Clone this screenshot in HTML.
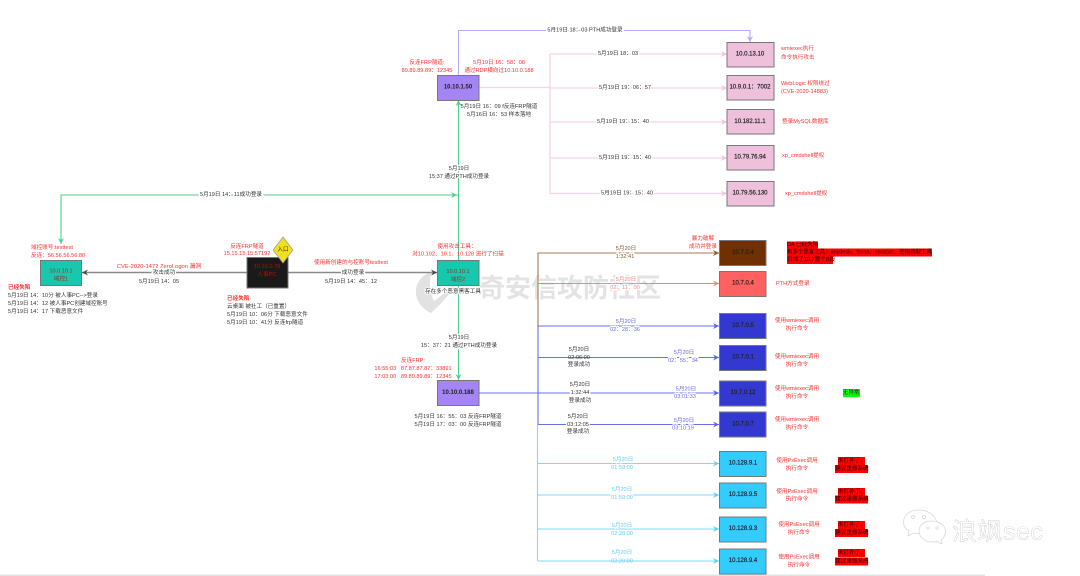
<!DOCTYPE html>
<html><head><meta charset="utf-8"><style>
html,body{margin:0;padding:0;background:#fff;width:1080px;height:576px;overflow:hidden}
svg{display:block;filter:blur(.3px)}
text{font-family:"Liberation Sans","Noto Sans CJK SC",sans-serif;font-size:5.6px;fill:#333;dominant-baseline:central}
.c{text-anchor:middle}
.r{fill:#ff3030}
.e{paint-order:stroke;stroke:#fff;stroke-width:2.5px}
.n{text-anchor:middle;font-size:6px;fill:#222;stroke:#222;stroke-width:.18px}
.h{font-weight:bold;stroke:none}
.b{fill:#6a6ae8}.cy{fill:#66ccf5}.pr{fill:#ff8080}.br{fill:#7a5a40}
.node{stroke:#777;stroke-width:1}
path.l{fill:none}
</style></head><body>
<svg width="1080" height="576" viewBox="0 0 1080 576" xmlns="http://www.w3.org/2000/svg">
<defs>
<marker id="mg" markerUnits="userSpaceOnUse" markerWidth="8" markerHeight="8" refX="6" refY="4" orient="auto"><path d="M0,1 L6,4 L0,7 L2,4Z" fill="#4fcf8f"/></marker>
<marker id="mp" markerUnits="userSpaceOnUse" markerWidth="8" markerHeight="8" refX="6" refY="4" orient="auto"><path d="M0,1 L6,4 L0,7 L2,4Z" fill="#b9a8ff"/></marker>
<marker id="mk" markerUnits="userSpaceOnUse" markerWidth="8" markerHeight="8" refX="6" refY="4" orient="auto"><path d="M0,1 L6,4 L0,7 L2,4Z" fill="#f2c4de"/></marker>
<marker id="ma" markerUnits="userSpaceOnUse" markerWidth="8" markerHeight="8" refX="6" refY="4" orient="auto"><path d="M0,1 L6,4 L0,7 L2,4Z" fill="#444"/></marker>
<marker id="mb" markerUnits="userSpaceOnUse" markerWidth="8" markerHeight="8" refX="6" refY="4" orient="auto"><path d="M0,1 L6,4 L0,7 L2,4Z" fill="#8a5a30"/></marker>
<marker id="mr" markerUnits="userSpaceOnUse" markerWidth="8" markerHeight="8" refX="6" refY="4" orient="auto"><path d="M0,1 L6,4 L0,7 L2,4Z" fill="#ff8080"/></marker>
<marker id="mu" markerUnits="userSpaceOnUse" markerWidth="8" markerHeight="8" refX="6" refY="4" orient="auto"><path d="M0,1 L6,4 L0,7 L2,4Z" fill="#5a60e8"/></marker>
<marker id="mc" markerUnits="userSpaceOnUse" markerWidth="8" markerHeight="8" refX="6" refY="4" orient="auto"><path d="M0,1 L6,4 L0,7 L2,4Z" fill="#5fd0fa"/></marker>
</defs>

<!-- watermark -->
<path d="M432,271 C421,276 415,283 416,294 C417,303 424,310 431,313 C441,304 453,292 460,276 C452,287 443,295 434,301 C429,291 429,281 432,271Z" fill="#e2e2e2"/>
<text x="570" y="288" class="c" style="font-size:26px;font-weight:bold;fill:#e3e3e3">奇安信攻防社区</text>

<!-- connectors -->
<path class="l" d="M458.5,101 V380" stroke="#4fcf8f" stroke-width="1.1" marker-end="url(#mg)"/>
<path class="l" d="M458.5,260 V100" stroke="#4fcf8f" stroke-width="1.1" marker-end="url(#mg)"/>
<path class="l" d="M458.5,195 H61 V244" stroke="#4fcf8f" stroke-width="1.1" marker-end="url(#mg)"/>
<path class="l" d="M61,195 H457" stroke="#4fcf8f" stroke-width="1.1" marker-end="url(#mg)"/>
<path class="l" d="M458.5,75 V30.5 H750 V42" stroke="#b9a8ff" stroke-width="1.1" marker-end="url(#mp)"/>

<g stroke="#f6d3e7" stroke-width="1.3" class="pk">
<path class="l" d="M479,87.5 H550"/>
<path class="l" d="M550,54 V193.5"/>
<path class="l" d="M550,54 H727" marker-end="url(#mk)"/>
<path class="l" d="M550,88 H727" marker-end="url(#mk)"/>
<path class="l" d="M550,122 H727" marker-end="url(#mk)"/>
<path class="l" d="M550,158 H727" marker-end="url(#mk)"/>
<path class="l" d="M550,193.5 H727" marker-end="url(#mk)"/>
</g>

<path class="l" d="M247,272.5 H82" stroke="#8a8a8a" stroke-width="1.4" marker-end="url(#ma)"/>
<path class="l" d="M288,272.5 H437" stroke="#8a8a8a" stroke-width="1.4" marker-end="url(#ma)"/>

<path class="l" d="M538,326 V253 H719" stroke="#a87850" stroke-width="1.1" marker-end="url(#mb)"/>
<path class="l" d="M538,283.5 H719" stroke="#ff8080" stroke-width="1" marker-end="url(#mr)"/>
<path class="l" d="M479,393 H538" stroke="#6a70e4" stroke-width="1.1"/>
<g stroke="#6a70e4" stroke-width="1.1">
<path class="l" d="M538,326 V424.5"/>
<path class="l" d="M538,326 H719" marker-end="url(#mu)"/>
<path class="l" d="M538,357.5 H719" marker-end="url(#mu)"/>
<path class="l" d="M538,393 H719" marker-end="url(#mu)"/>
<path class="l" d="M538,424.5 H719" marker-end="url(#mu)"/>
</g>
<g stroke="#7fd8fa" stroke-width="1.1">
<path class="l" d="M537.5,424.5 V561"/>
<path class="l" d="M537.5,463.5 H719" marker-end="url(#mc)"/>
<path class="l" d="M537.5,495 H719" marker-end="url(#mc)"/>
<path class="l" d="M537.5,529 H719" marker-end="url(#mc)"/>
<path class="l" d="M537.5,561 H719" marker-end="url(#mc)"/>
</g>

<!-- nodes -->
<rect class="node" x="40.5" y="260.5" width="41" height="25" fill="#17c7ae"/>
<rect class="node" x="247" y="257.5" width="41" height="30.5" fill="#1a1a1a"/>
<path d="M283,237 L293,250 L283,263 L273,250Z" fill="#f0e020" stroke="#999" stroke-width=".7"/>
<rect class="node" x="437.5" y="260.5" width="41.5" height="25" fill="#17c7ae"/>
<rect class="node" x="437.5" y="380.5" width="41.5" height="25" fill="#a585f5"/>
<rect class="node" x="437.5" y="75.5" width="41.5" height="25" fill="#a585f5"/>
<g fill="#efc0dc">
<rect class="node" x="727" y="42.5" width="47" height="24.5"/>
<rect class="node" x="727" y="75.5" width="47" height="24.5"/>
<rect class="node" x="727" y="109.5" width="47" height="24.5"/>
<rect class="node" x="727" y="145.5" width="47" height="24.5"/>
<rect class="node" x="727" y="181.5" width="47" height="24.5"/>
</g>
<rect class="node" x="719.5" y="240.5" width="46.5" height="25" fill="#703000"/>
<rect class="node" x="719.5" y="271.5" width="46.5" height="25" fill="#ff6060"/>
<g fill="#3339d0">
<rect class="node" x="719.5" y="313.5" width="46.5" height="25"/>
<rect class="node" x="719.5" y="345.5" width="46.5" height="25"/>
<rect class="node" x="719.5" y="381" width="46.5" height="25"/>
<rect class="node" x="719.5" y="412" width="46.5" height="25"/>
</g>
<g fill="#33ccff">
<rect class="node" x="719.5" y="451.5" width="46.5" height="25"/>
<rect class="node" x="719.5" y="483" width="46.5" height="25"/>
<rect class="node" x="719.5" y="517" width="46.5" height="25"/>
<rect class="node" x="719.5" y="549" width="46.5" height="25"/>
</g>

<!-- highlight backgrounds -->
<g fill="#ff0000">
<rect x="787" y="241.5" width="31" height="7.5"/>
<rect x="787" y="248.5" width="145" height="8"/>
<rect x="787" y="256" width="46" height="8"/>
<rect x="838" y="457" width="27" height="8"/><rect x="835" y="465" width="33" height="8"/>
<rect x="838" y="488" width="27" height="8"/><rect x="835" y="495.500" width="33" height="8"/>
<rect x="838" y="521" width="27" height="8"/><rect x="835" y="529" width="33" height="8"/>
<rect x="838" y="549" width="27" height="8"/><rect x="835" y="557.500" width="33" height="8"/>
</g>
<rect x="843" y="389" width="17" height="8" fill="#00ff00"/>

<!-- left -->
<text x="31" y="248" class="r">域控账号:testtest</text>
<text x="31" y="256" class="r">反连：56.56.56.56:80</text>
<text x="61" y="271.500" class="c" style="fill:#8a3a20">10.0.10.1</text>
<text x="61" y="279.500" class="c" style="fill:#8a3a20">域控1</text>
<text x="159" y="267" class="c r" style="font-size:5.8px">CVE-2020-1472 ZeroLogon 漏洞</text>
<text x="164" y="273" class="c e">攻击成功</text>
<text x="159" y="282" class="c">5月19日 14：05</text>
<text x="8" y="288" class="r" style="font-weight:bold">已经失陷</text>
<text x="8" y="296">5月19日 14：10分 被人事PC--&gt;登录</text>
<text x="8" y="304">5月19日 14：12 被人事PC创建域控账号</text>
<text x="8" y="312">5月19日 14：17 下载恶意文件</text>

<text x="247" y="247" class="c r">反连FRP隧道</text>
<text x="247" y="254" class="c r">15.15.15.15:57192</text>
<text x="267" y="267" class="c" style="fill:#d00000">10.10.0.78</text>
<text x="267" y="275" class="c" style="fill:#d00000">人事PC</text>
<text x="283" y="250" class="c" style="fill:#333">入口</text>
<text x="227" y="299" class="r" style="font-weight:bold">已经失陷</text>
<text x="227" y="307">云桌面 被社工（已重置）</text>
<text x="227" y="315">5月19日 10：06分 下载恶意文件</text>
<text x="227" y="323">5月19日 10：41分 反连frp隧道</text>

<text x="351" y="263" class="c r">使用新创建的与控账号testtest</text>
<text x="353" y="273" class="c e">成功登录</text>
<text x="351" y="282" class="c">5月19日 14：45：12</text>
<text x="231" y="195" class="c e">5月19日 14：11成功登录</text>

<!-- center -->
<text x="457" y="247" class="c r">使用攻击工具：</text>
<text x="458" y="254.500" class="c r">对10.192、10.1、10.128 进行了扫描</text>
<text x="458" y="272" class="c" style="fill:#8a3a20">10.0.10.1</text>
<text x="458" y="280" class="c" style="fill:#8a3a20">域控2</text>
<text x="453" y="292" class="c e" style="stroke-width:1.5px">存在多个恶意黑客工具</text>
<text x="459" y="338" class="c e">5月19日</text>
<text x="459" y="346" class="c e">15：37：21 通过PTH成功登录</text>
<text x="413" y="361" class="c r">反连FRP:</text>
<text x="413" y="369" class="c r">16:55:03 &#160;&#160;87.87.87.87：33891</text>
<text x="413" y="377" class="c r">17:03:00 &#160;&#160;89.89.89.89：12345</text>
<text x="458" y="393" class="n h">10.10.0.188</text>
<text x="458" y="417" class="c">5月19日 16：55：03 反连FRP隧道</text>
<text x="458" y="425" class="c">5月19日 17：03：00 反连FRP隧道</text>

<text x="585" y="30.500" class="c e">5月19日 18：03 PTH成功登录</text>
<text x="427" y="63" class="c r">反连FRP隧道:</text>
<text x="427" y="71" class="c r">89.89.89.89：12345</text>
<text x="499" y="63" class="c r">5月19日 16：58：08</text>
<text x="499" y="71" class="c r">通过RDP横向过10.10.0.188</text>
<text x="458" y="87.500" class="n h">10.10.1.50</text>
<text x="499" y="107" class="c">5月19日 16：09 f反连FRP隧道</text>
<text x="499" y="115" class="c">5月16日 16：53 样本落地</text>
<text x="459" y="169" class="c e">5月19日</text>
<text x="459" y="177" class="c e">15:37 通过PTH成功登录</text>

<!-- pink -->
<text x="618" y="54" class="c e">5月19日 18：03</text>
<text x="625" y="88" class="c e">5月19日 19：06：57</text>
<text x="623" y="122" class="c e">5月19日 19：15：40</text>
<text x="625" y="158" class="c e">5月19日 19：15：40</text>
<text x="627" y="193.500" class="c e">5月19日 19：15：40</text>
<text x="750" y="54.500" class="n">10.0.13.10</text>
<text x="750" y="87.500" class="n">10.9.0.1：7002</text>
<text x="750" y="122" class="n">10.182.11.1</text>
<text x="750" y="157.500" class="n">10.79.76.94</text>
<text x="750" y="193.500" class="n">10.79.56.130</text>
<text x="781" y="49" class="r">wmiexec执行</text>
<text x="781" y="58" class="r">命令执行攻击</text>
<text x="781" y="84" class="r">WebLogic 权限绕过</text>
<text x="781" y="92" class="r">(CVE-2020-14883)</text>
<text x="782" y="122" class="r">登录MySQL数据库</text>
<text x="782" y="156" class="r">xp_cmdshell提权</text>
<text x="785" y="194" class="r">xp_cmdshell提权</text>

<!-- right tree labels -->
<text x="703" y="239" class="c r">暴力破解</text>
<text x="703" y="247" class="c r">成功并登录</text>
<text x="626" y="249" class="c e br">5月20日</text>
<text x="625" y="257" class="c e br">1:32:41</text>
<text x="626" y="280" class="c e pr">5月20日</text>
<text x="625" y="288" class="c e pr">02：11：00</text>
<text x="626" y="322" class="c e b">5月20日</text>
<text x="625" y="330" class="c e b">02：28：36</text>
<text x="579" y="350" class="c e">5月20日</text>
<text x="579" y="358" class="c" style="fill:#333">02:06:00</text>
<text x="579" y="365" class="c e">登录成功</text>
<text x="684" y="353" class="c e b">5月20日</text>
<text x="683" y="361" class="c e b">02：55：34</text>
<text x="580" y="385" class="c e">5月20日</text>
<text x="580" y="393" class="c e">1:32:44</text>
<text x="580" y="401" class="c e">登录成功</text>
<text x="686" y="389.500" class="c e b">5月20日</text>
<text x="685" y="397" class="c e b">03:01:33</text>
<text x="578" y="417" class="c e">5月20日</text>
<text x="578" y="425" class="c e">03:12:05</text>
<text x="578" y="432" class="c e">登录成功</text>
<text x="684" y="421" class="c e b">5月20日</text>
<text x="683" y="428.500" class="c e b">03:10:19</text>
<text x="623" y="460" class="c e cy">5月20日</text>
<text x="622" y="468" class="c e cy">01:59:00</text>
<text x="622" y="490" class="c e cy">5月20日</text>
<text x="622" y="498" class="c e cy">01:59:00</text>
<text x="622" y="526" class="c e cy">5月20日</text>
<text x="622" y="534" class="c e cy">02:28:00</text>
<text x="622" y="553" class="c e cy">5月20日</text>
<text x="622" y="561.500" class="c cy">02:20:00</text>

<text x="743" y="253" class="n">10.7.0.4</text>
<text x="743" y="283.500" class="n">10.7.0.4</text>
<text x="743" y="326" class="n">10.7.0.5</text>
<text x="743" y="357.500" class="n">10.7.0.1</text>
<text x="743" y="393" class="n">10.7.0.12</text>
<text x="743" y="424.500" class="n">10.7.0.7</text>
<text x="743" y="463.500" class="n">10.128.9.1</text>
<text x="743" y="495" class="n">10.128.9.5</text>
<text x="743" y="529" class="n">10.128.9.3</text>
<text x="743" y="561" class="n">10.128.9.4</text>

<text x="787" y="245" style="fill:#300">DA 已经失陷</text>
<text x="787" y="252.500" style="fill:#300" textLength="145" lengthAdjust="spacingAndGlyphs">有多个黑客工具：anydesk、fscan、serscan、密码获取工具</text>
<text x="787" y="260" style="fill:#300">扫描了10.7整个B段</text>
<text x="776" y="284" class="r">PTH方式登录</text>

<text x="797" y="321" class="c r">使用wmiexec调用</text>
<text x="797" y="329" class="c r">执行命令</text>
<text x="797" y="357" class="c r">使用wmiexec调用</text>
<text x="797" y="365" class="c r">执行命令</text>
<text x="797" y="389" class="c r">使用wmiexec调用</text>
<text x="797" y="397" class="c r">执行命令</text>
<text x="797" y="420" class="c r">使用wmiexec调用</text>
<text x="797" y="428" class="c r">执行命令</text>
<text x="851" y="393" class="c" style="fill:#222">无异常</text>

<text x="797" y="461" class="c r">使用PsExec调用</text>
<text x="797" y="469" class="c r">执行命令</text>
<text x="797" y="492" class="c r">使用PsExec调用</text>
<text x="797" y="499.500" class="c r">执行命令</text>
<text x="799" y="525" class="c r">使用PsExec调用</text>
<text x="799" y="533" class="c r">执行命令</text>
<text x="799" y="557.500" class="c r">使用PsExec调用</text>
<text x="799" y="565.500" class="c r">执行命令</text>

<text x="852" y="461" class="c" style="fill:#300">未打补丁，</text>
<text x="852" y="469" class="c" style="fill:#300">建议重做系统</text>
<text x="852" y="492" class="c" style="fill:#300">未打补丁，</text>
<text x="852" y="499.500" class="c" style="fill:#300">建议重做系统</text>
<text x="852" y="525" class="c" style="fill:#300">未打补丁，</text>
<text x="852" y="533" class="c" style="fill:#300">建议重做系统</text>
<text x="852" y="553" class="c" style="fill:#300">未打补丁，</text>
<text x="852" y="561.500" class="c" style="fill:#300">建议重做系统</text>

<!-- wechat watermark -->
<g fill="#fff" stroke="#d4d4d4" stroke-width=".7">
<path d="M918,510 C909,510 903.500,516 903.500,522 C903.500,526 905.500,529 909,531 L908,536 L914,533 C917,534 920,534 923,533 L937,525 C937,516 929,510 918,510Z"/>
<path d="M931,521 C923,521 919,526 919,531 C919,537 925,542 932,542 C934,542 936,542 937,541.500 L942,544 L941,540 C944,538 945.500,535 945.500,531 C945.500,526 940,521 931,521Z"/>
<circle cx="913" cy="517" r="1.500"/><circle cx="924" cy="517" r="1.500"/>
<circle cx="928" cy="528" r="1.200"/><circle cx="937" cy="528" r="1.200"/>
</g>
<text x="952" y="532" style="font-size:25px;fill:#fff;stroke:#c4c4c4;stroke-width:.35px;letter-spacing:.5px">浪飒sec</text>

<rect x="0" y="574.500" width="985" height="1.500" fill="#e2e2e2"/>
</svg>
</body></html>
